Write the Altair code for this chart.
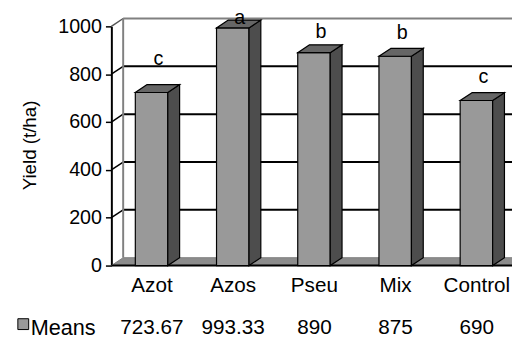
import altair as alt
import pandas as pd

# ---- data ----
categories = ["Azot", "Azos", "Pseu", "Mix", "Control"]
means = [723.67, 993.33, 890, 875, 690]
letters = ["c", "a", "b", "b", "c"]
letter_heights = [864, 1035, 975, 971, 790]   # where the significance letters sit (data units)
y_ticks = [0, 200, 400, 600, 800, 1000]
series_name = "Means"
y_title = "Yield (t/ha)"

# ---- layout / style constants ----
W, H = 407, 243
PX_PER_CAT = 82.5
X_MAX = W / PX_PER_CAT
DX = 12 / PX_PER_CAT          # 3-D depth, x (category units)
DY = 8.0 * 1000 / H           # 3-D depth, y (data units)
X_EXT = 6.0
FONT = "Liberation Sans"
FRONT, SIDE, TOP = "#999999", "#4d4d4d", "#666666"

xscale = alt.Scale(domain=[0, X_MAX], nice=False, zero=False)
yscale = alt.Scale(domain=[0, 1000], nice=False, zero=False)
yaxis = alt.Axis(
    values=y_ticks, grid=False, title=None, format="d",
    labelFont=FONT, labelFontSize=20, labelColor="black", labelPadding=4,
    labelFlush=False,
    tickColor="black", tickSize=6, tickWidth=1.5,
    domainColor="black", domainWidth=2,
)


def X(field, **kw):
    return alt.X(field, type="quantitative", scale=xscale, axis=None, **kw)


def Y(field, **kw):
    return alt.Y(field, type="quantitative", scale=yscale, axis=yaxis, **kw)


# ---- tables built from the lists ----
bars = pd.DataFrame({
    "cat": categories,
    "value": means,
    "i": range(len(categories)),
})
bars["x0"] = bars["i"] + 0.295
bars["x1"] = bars["i"] + 0.695
bars["xc"] = bars["i"] + 0.5
bars["xl"] = bars["i"] + 0.58
bars["zero"] = 0.0
bars["letter"] = letters
bars["lh"] = letter_heights
bars["txt"] = [f"{v:g}" for v in means]

side_rows, top_rows = [], []
for r in bars.to_dict("records"):
    c, v, x0, x1 = r["cat"], r["value"], r["x0"], r["x1"]
    side_rows.append({"cat": c, "x": x1, "y": v, "y2": 0.0})
    side_rows.append({"cat": c, "x": x1 + DX, "y": v + DY, "y2": DY})
    top_rows.append({"cat": c, "y": v, "x": x0, "x2": x1})
    top_rows.append({"cat": c, "y": v + DY, "x": x0 + DX, "x2": x1 + DX})
side = pd.DataFrame(side_rows)
topf = pd.DataFrame(top_rows)

ticks = pd.DataFrame({"t": y_ticks})
ticks["tb"] = ticks["t"] + DY
ticks["xa"] = 0.0
ticks["xb"] = DX
ticks["xe"] = X_EXT
inner = ticks[(ticks["t"] > 0) & (ticks["t"] < 1000)]
top_edge = ticks[ticks["t"] == 1000]

floor = pd.DataFrame({"y": [0.0, DY], "x": [0.0, DX], "x2": [X_EXT, X_EXT + DX], "k": ["f", "f"]})
wall_edge = pd.DataFrame({"x": [DX], "y": [DY], "y2": [1000 + DY]})
front_edge = pd.DataFrame({"x": [0.0], "x2": [X_EXT], "y": [0.0]})

# ---- layers ----
floor_l = alt.Chart(floor).mark_area(orient="horizontal", fill="#8c8c8c", stroke="#808080",
                                      strokeWidth=1).encode(
    y=Y("y"), x=X("x"), x2="x2", detail="k:N")

grid_l = alt.Chart(inner).mark_rule(color="black", strokeWidth=2).encode(
    x=X("xb"), x2="xe", y=Y("tb"))
diag_l = alt.Chart(inner).mark_rule(color="black", strokeWidth=1.5).encode(
    x=X("xa"), x2="xb", y=Y("t"), y2="tb")
top_edge_l = alt.Chart(top_edge).mark_rule(color="#808080", strokeWidth=2).encode(
    x=X("xb"), x2="xe", y=Y("tb"))
top_diag_l = alt.Chart(top_edge).mark_rule(color="#555555", strokeWidth=1.5).encode(
    x=X("xa"), x2="xb", y=Y("t"), y2="tb")
wall_edge_l = alt.Chart(wall_edge).mark_rule(color="#808080", strokeWidth=2).encode(
    x=X("x"), y=Y("y"), y2="y2")
front_edge_l = alt.Chart(front_edge).mark_rule(color="black", strokeWidth=2).encode(
    x=X("x"), x2="x2", y=Y("y"))

front_l = alt.Chart(bars).mark_rect(fill=FRONT, stroke="black", strokeWidth=1.2).encode(
    x=X("x0"), x2="x1", y=Y("value"), y2="zero")
side_l = alt.Chart(side).mark_area(orient="vertical", fill=SIDE, stroke="black",
                                   strokeWidth=1.2).encode(
    x=X("x"), y=Y("y"), y2="y2", detail="cat:N")
top_l = alt.Chart(topf).mark_area(orient="horizontal", fill=TOP, stroke="black",
                                  strokeWidth=1.2).encode(
    y=Y("y"), x=X("x"), x2="x2", detail="cat:N")

letters_l = alt.Chart(bars).mark_text(font=FONT, fontSize=20, color="black",
                                      baseline="middle").encode(
    x=X("xl"), y=Y("lh"), text="letter:N")
xlab_l = alt.Chart(bars).mark_text(font=FONT, fontSize=21, color="black",
                                   baseline="middle").encode(
    x=X("xc"), y=alt.value(263.5), text="cat:N")
vals_l = alt.Chart(bars).mark_text(font=FONT, fontSize=21, color="black",
                                   baseline="middle").encode(
    x=X("xc"), y=alt.value(307), text="txt:N")

leg = pd.DataFrame({"name": [series_name], "title": [y_title]})
leg_sq = alt.Chart(leg).mark_square(size=121, fill=FRONT, stroke="black", strokeWidth=1,
                                    opacity=1).encode(
    x=alt.value(-89.5), y=alt.value(302.5))
leg_txt = alt.Chart(leg).mark_text(font=FONT, fontSize=22, color="black", align="left",
                                   baseline="middle").encode(
    x=alt.value(-82), y=alt.value(307), text="name:N")
title_l = alt.Chart(leg).mark_text(font=FONT, fontSize=19, color="black", align="center",
                                   baseline="middle", angle=270).encode(
    x=alt.value(-83), y=alt.value(121), text="title:N")

chart = alt.layer(
    floor_l, grid_l, diag_l, top_edge_l, top_diag_l, wall_edge_l, front_edge_l,
    front_l, side_l, top_l, letters_l, xlab_l, vals_l, leg_sq, leg_txt, title_l,
).properties(
    width=W, height=H,
    autosize=alt.AutoSizeParams(type="none"),
    padding={"left": 105, "top": 16, "right": 0, "bottom": 76},
    background="white",
).configure_view(stroke=None)

chart.save("out.html", embed_options={"renderer": "svg", "actions": False})
